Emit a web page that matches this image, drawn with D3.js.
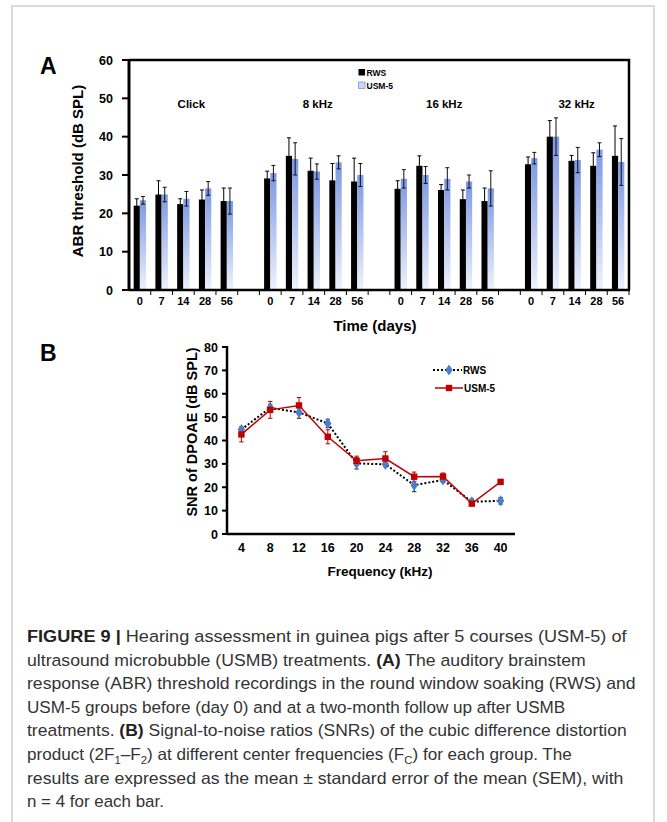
<!DOCTYPE html>
<html>
<head>
<meta charset="utf-8">
<script src="https://cdn.jsdelivr.net/npm/d3@7"></script>
<style>
  body { margin: 0; background: #fff; }
  svg text { font-family: "Liberation Sans", Arial, sans-serif; }
</style>
</head>
<body>
<div id="container"></div>
<script>
d3.select().__proto__.attrs = function(obj) { Object.keys(obj).forEach(k => this.attr(k.split(/(?=[A-Z])/).join('-').toLowerCase(), obj[k])); return this; };

// panel A: ABR thresholds
const groups = ['Click', '8 kHz', '16 kHz', '32 kHz'];
const days = ['0', '7', '14', '28', '56'];
const rwsABR    = [22.0, 24.9, 22.4, 23.6, 23.2,  29.1, 35.0, 31.1, 28.6, 28.3,  26.4, 32.4, 26.1, 23.7, 23.2,  32.8, 40.0, 33.7, 32.4, 35.0];
const rwsABRErr = [1.8, 3.6, 1.4, 2.5, 3.4,  1.9, 4.7, 3.3, 4.4, 6.1,  2.1, 2.6, 1.4, 2.4, 3.4,  1.9, 4.2, 1.4, 3.4, 7.8];
const usmABR    = [23.4, 24.9, 23.8, 26.5, 23.2,  30.5, 34.2, 30.9, 33.3, 30.0,  29.0, 30.0, 29.0, 28.3, 26.5,  34.4, 40.0, 33.9, 36.6, 33.4];
const usmABRErr = [1.0, 1.9, 1.9, 1.8, 3.4,  2.0, 4.2, 2.0, 1.7, 3.0,  2.4, 2.2, 2.9, 1.7, 4.6,  1.5, 4.9, 3.3, 1.8, 6.1];
const abrTicks = [0, 10, 20, 30, 40, 50, 60];

// panel B: DPOAE SNR
const freqs = ['4', '8', '12', '16', '20', '24', '28', '32', '36', '40'];
const rwsSNR    = [44.7, 54.0, 52.0, 47.3, 30.2, 29.8, 20.9, 23.1, 13.8, 14.2];
const rwsSNRErr = [1.0, 1.5, 2.5, 1.8, 2.4, 1.0, 2.8, 1.0, 1.2, 1.4];
const usmSNR    = [42.6, 53.1, 55.0, 41.6, 31.3, 32.3, 24.5, 24.6, 13.0, 22.3];
const usmSNRErr = [3.2, 3.6, 3.4, 3.0, 2.0, 2.9, 2.0, 1.5, 0.8, 1.0];
const snrTicks = [0, 10, 20, 30, 40, 50, 60, 70, 80];

const caption = [
  [['b', 'FIGURE 9 | '], ['n', 'Hearing assessment in guinea pigs after 5 courses (USM-5) of']],
  [['n', 'ultrasound microbubble (USMB) treatments. '], ['b', '(A)'], ['n', ' The auditory brainstem']],
  [['n', 'response (ABR) threshold recordings in the round window soaking (RWS) and']],
  [['n', 'USM-5 groups before (day 0) and at a two-month follow up after USMB']],
  [['n', 'treatments. '], ['b', '(B)'], ['n', ' Signal-to-noise ratios (SNRs) of the cubic difference distortion']],
  [['n', 'product (2F'], ['s', '1'], ['n', '\u2013F'], ['s', '2'], ['n', ') at different center frequencies (F'], ['s', 'C'], ['n', ') for each group. The']],
  [['n', 'results are expressed as the mean \u00b1 standard error of the mean (SEM), with']],
  [['n', 'n = 4 for each bar.']]
];
const captionWidths = [600, 559, 609, 539, 600, 545, 597, 137];

const W = 667, H = 822;
const svg = d3.select('#container').append('svg').attrs({ width: W, height: H });

// gray frame
svg.append('rect').attrs({ x: 12, y: 6, width: 642, height: 840, fill: 'none', stroke: '#cfcfcf', strokeWidth: 1.5 });

const defs = svg.append('defs');
const grad = defs.append('linearGradient').attrs({ id: 'blueGrad', x1: 0, y1: 0, x2: 0, y2: 1 });
grad.append('stop').attrs({ offset: '0%', stopColor: '#7b98e4' });
grad.append('stop').attrs({ offset: '100%', stopColor: '#eef2fc' });

/* ---------- panel A ---------- */
const slots = [];
groups.forEach((g, gi) => {
  days.forEach(d => slots.push(g + '|' + d));
  if (gi < groups.length - 1) slots.push(g + '|gap');
});
const xA = d3.scaleBand().domain(slots).range([129, 629]).padding(0);
const yA = d3.scaleLinear().domain([0, 60]).range([290, 60]);
const bw = 6.2;

const gA = svg.append('g');
const abrData = [];
groups.forEach((g, gi) => days.forEach((d, di) => {
  const i = gi * days.length + di;
  abrData.push({ key: g + '|' + d, day: d, rws: rwsABR[i], rwsErr: rwsABRErr[i], usm: usmABR[i], usmErr: usmABRErr[i] });
}));

const cx = d => xA(d.key) + xA.bandwidth() / 2;

gA.selectAll('rect.rws').data(abrData).join('rect').attrs({
  x: d => cx(d) - bw, y: d => yA(d.rws), width: bw, height: d => yA(0) - yA(d.rws), fill: '#000'
});
gA.selectAll('rect.usm').data(abrData).join('rect').attrs({
  x: d => cx(d), y: d => yA(d.usm), width: bw, height: d => yA(0) - yA(d.usm), fill: 'url(#blueGrad)'
});

const errBar = (g, x, y0, y1, cap, color) => {
  g.append('line').attrs({ x1: x, x2: x, y1: y0, y2: y1, stroke: color, strokeWidth: 1 });
  [y0, y1].forEach(yy => g.append('line').attrs({ x1: x - cap, x2: x + cap, y1: yy, y2: yy, stroke: color, strokeWidth: 1 }));
};
abrData.forEach(d => {
  const xr = cx(d) - bw / 2, xu = cx(d) + bw / 2;
  errBar(gA, xr, yA(d.rws + d.rwsErr), yA(d.rws - d.rwsErr), 2, '#000');
  errBar(gA, xu, yA(d.usm + d.usmErr), yA(d.usm - d.usmErr), 2, '#111');
});

// box + axes
gA.append('path').attrs({ d: `M129,${yA(60)}H629V${yA(0)}`, fill: 'none', stroke: '#000', strokeWidth: 2.5 });
gA.append('line').attrs({ x1: 129, x2: 129, y1: yA(60) - 1, y2: yA(0) + 1, stroke: '#000', strokeWidth: 3 });
gA.append('line').attrs({ x1: 129, x2: 630, y1: yA(0), y2: yA(0), stroke: '#000', strokeWidth: 2.5 });

abrTicks.forEach(t => {
  gA.append('line').attrs({ x1: 122, x2: 129, y1: yA(t), y2: yA(t), stroke: '#000', strokeWidth: 2 });
  gA.append('text').attrs({ x: 113, y: yA(t) + 4.5, textAnchor: 'end', fontSize: 12.5, fontWeight: 'bold', fontFamily: '"DejaVu Sans", sans-serif' }).text(t);
});
// category boundary ticks
slots.forEach((s, i) => {
  const xx = xA(s) + xA.bandwidth();
  gA.append('line').attrs({ x1: xx, x2: xx, y1: yA(0), y2: yA(0) + 5, stroke: '#000', strokeWidth: 1 });
});
abrData.forEach(d => {
  gA.append('text').attrs({ x: cx(d), y: 305, textAnchor: 'middle', fontSize: 11, fontWeight: 'bold' }).text(d.day);
});
const groupDx = [8, 4, 0, 2];
groups.forEach((g, gi) => {
  const mid = xA(g + '|' + days[2]) + xA.bandwidth() / 2;
  gA.append('text').attrs({ x: mid + groupDx[gi], y: 108, textAnchor: 'middle', fontSize: 11.5, fontWeight: 'bold' }).text(g);
});

// legend A
gA.append('rect').attrs({ x: 358.5, y: 69, width: 6.5, height: 6.5, fill: '#000' });
gA.append('text').attrs({ x: 366.5, y: 76, fontSize: 8.5, fontWeight: 'bold' }).text('RWS');
gA.append('rect').attrs({ x: 358.5, y: 82, width: 6.5, height: 6.5, fill: '#c9d6f4', stroke: '#7b98e4', strokeWidth: 0.8 });
gA.append('text').attrs({ x: 366.5, y: 89, fontSize: 8.5, fontWeight: 'bold' }).text('USM-5');

gA.append('text').attrs({ transform: 'translate(83,171) rotate(-90)', textAnchor: 'middle', fontSize: 15, fontWeight: 'bold' }).text('ABR threshold (dB SPL)');
gA.append('text').attrs({ x: 375, y: 331, textAnchor: 'middle', fontSize: 15, fontWeight: 'bold' }).text('Time (days)');
svg.append('text').attrs({ x: 40, y: 74, fontSize: 23, fontWeight: 'bold' }).text('A');

/* ---------- panel B ---------- */
const xB = d3.scaleBand().domain(freqs).range([227, 515]).padding(0);
const yB = d3.scaleLinear().domain([0, 80]).range([534, 347]);
const gB = svg.append('g');
const pcx = f => xB(f) + xB.bandwidth() / 2;

gB.append('line').attrs({ x1: 227, x2: 227, y1: yB(80) - 1, y2: yB(0) + 1, stroke: '#000', strokeWidth: 2.5 });
gB.append('line').attrs({ x1: 227, x2: 515, y1: yB(0), y2: yB(0), stroke: '#000', strokeWidth: 2.5 });
snrTicks.forEach(t => {
  gB.append('line').attrs({ x1: 222, x2: 227, y1: yB(t), y2: yB(t), stroke: '#000', strokeWidth: 2 });
  gB.append('text').attrs({ x: 218, y: yB(t) + 4.5, textAnchor: 'end', fontSize: 12.5, fontWeight: 'bold' }).text(t);
});
freqs.forEach(f => {
  gB.append('text').attrs({ x: pcx(f), y: 552, textAnchor: 'middle', fontSize: 12.5, fontWeight: 'bold' }).text(f);
});

const line = vals => d3.line().x((v, i) => pcx(freqs[i])).y(v => yB(v))(vals);

// error bars
freqs.forEach((f, i) => {
  errBar(gB, pcx(f), yB(rwsSNR[i] + rwsSNRErr[i]), yB(rwsSNR[i] - rwsSNRErr[i]), 2.2, '#222');
});
freqs.forEach((f, i) => {
  errBar(gB, pcx(f), yB(usmSNR[i] + usmSNRErr[i]), yB(usmSNR[i] - usmSNRErr[i]), 2.2, '#c00000');
});

gB.append('path').attrs({ d: line(rwsSNR), fill: 'none', stroke: '#000', strokeWidth: 2, strokeDasharray: '2,2' });
gB.append('path').attrs({ d: line(usmSNR), fill: 'none', stroke: '#c00000', strokeWidth: 1.5 });

const diamond = d3.symbol().type(d3.symbolDiamond).size(36);
gB.selectAll('path.dia').data(rwsSNR).join('path').attrs({
  d: diamond, transform: (v, i) => `translate(${pcx(freqs[i])},${yB(v)}) scale(1.15,1)`, fill: '#4a7ec9'
});
gB.selectAll('rect.sq').data(usmSNR).join('rect').attrs({
  x: (v, i) => pcx(freqs[i]) - 3.2, y: v => yB(v) - 3.2, width: 6.4, height: 6.4, fill: '#c00000'
});

// legend B
gB.append('line').attrs({ x1: 433, x2: 462, y1: 370, y2: 370, stroke: '#000', strokeWidth: 2, strokeDasharray: '2,2' });
gB.append('path').attrs({ d: diamond, transform: 'translate(449,370) scale(1.15,1)', fill: '#4a7ec9' });
gB.append('text').attrs({ x: 463, y: 373.5, fontSize: 10, fontWeight: 'bold' }).text('RWS');
gB.append('line').attrs({ x1: 435, x2: 463, y1: 388, y2: 388, stroke: '#c00000', strokeWidth: 1.5 });
gB.append('rect').attrs({ x: 445.8, y: 384.8, width: 6.4, height: 6.4, fill: '#c00000' });
gB.append('text').attrs({ x: 464, y: 391.5, fontSize: 10, fontWeight: 'bold' }).text('USM-5');

gB.append('text').attrs({ transform: 'translate(197,432) rotate(-90)', textAnchor: 'middle', fontSize: 14.5, fontWeight: 'bold' }).text('SNR of DPOAE (dB SPL)');
gB.append('text').attrs({ x: 380, y: 576, textAnchor: 'middle', fontSize: 13.5, fontWeight: 'bold' }).text('Frequency (kHz)');
svg.append('text').attrs({ x: 40, y: 361, fontSize: 23, fontWeight: 'bold' }).text('B');

/* ---------- caption ---------- */
const cap = svg.append('g');
caption.forEach((parts, li) => {
  const t = cap.append('text').attrs({ x: 27, y: 642 + li * 23.6, fontSize: 16.5, fill: '#333' });
  let sub = false;
  parts.forEach(([k, s]) => {
    const ts = t.append('tspan').text(s);
    if (k === 'b') ts.attrs({ fontWeight: 'bold', fill: '#222' });
    if (k === 's') { ts.attrs({ fontSize: 11, dy: sub ? 0 : 4 }); sub = true; }
    else if (sub) { ts.attr('dy', -4); sub = false; }
  });
  // stretch each line horizontally to the measured width of the original
  const w = t.node().getComputedTextLength();
  const k = captionWidths[li] / w;
  t.attr('transform', `translate(27,0) scale(${k},1) translate(-27,0)`);
});
</script>
</body>
</html>
